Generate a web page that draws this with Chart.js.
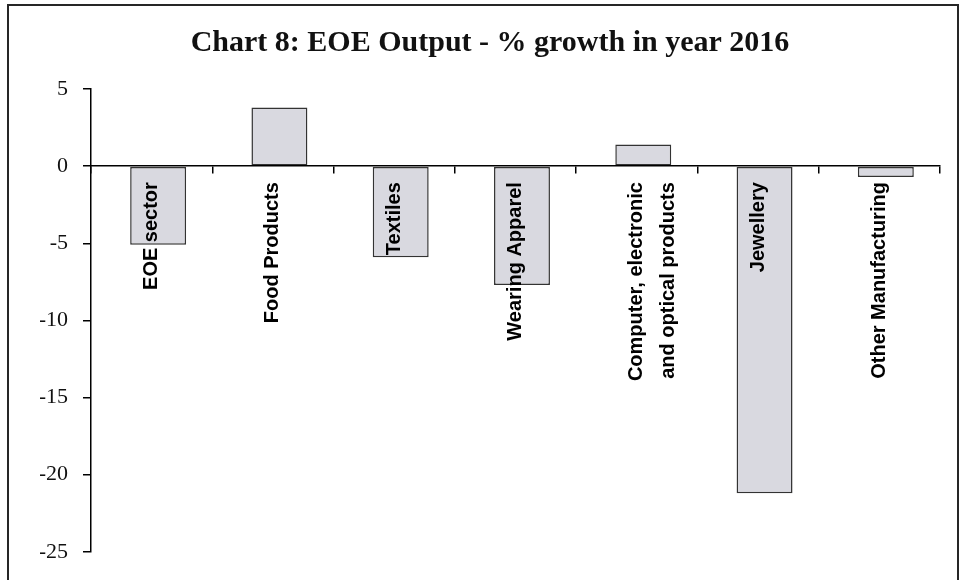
<!DOCTYPE html>
<html>
<head>
<meta charset="utf-8">
<script src="https://cdn.jsdelivr.net/npm/chart.js@4"></script>
<style>
  html, body { margin: 0; padding: 0; background: #fff; overflow: hidden; }
  #frame { position: absolute; left: 7px; top: 4px; width: 948px; height: 620px; border: 2px solid #262626; border-bottom: none; }
  #wrap { position: absolute; left: 0; top: 0; width: 960px; height: 580px; }
</style>
</head>
<body>
<div id="frame"></div>
<div id="wrap"><canvas id="eoeChart"></canvas></div>
<script>
// Sectors (multi-line label kept as an array)
const categories = [
  'EOE sector',
  'Food Products',
  'Textiles',
  'Wearing Apparel',
  ['Computer, electronic', 'and optical products'],
  'Jewellery',
  'Other Manufacturing'
];
// % growth in 2016
const growth2016 = [-5.1, 3.8, -5.9, -7.7, 1.4, -21.2, -0.7];
const yTicks = [5, 0, -5, -10, -15, -20, -25];

const ctx = document.getElementById('eoeChart').getContext('2d');

const eoeChart = new Chart(ctx, {
  type: 'bar',
  data: {
    labels: categories,
    datasets: [
      {
        // empty slot, only there so the bars sit a little right of centre like the original
        label: '',
        data: categories.map(() => null)
      },
      {
        label: 'EOE Output',
        data: growth2016,
        backgroundColor: '#d9d9e0',
        borderColor: '#333333',
        borderWidth: 1.5,
        borderSkipped: false,
        categoryPercentage: 0.214,
        barPercentage: 4.31
      }
    ]
  },
  options: {
    responsive: true,
    maintainAspectRatio: false,
    animation: false,
    layout: {
      padding: { top: 0, left: 40, right: 20, bottom: 28 }
    },
    plugins: {
      legend: { display: false },
      tooltip: { enabled: false },
      title: {
        display: true,
        text: 'Chart 8: EOE Output - % growth in year 2016',
        color: '#111',
        font: { family: '"Liberation Serif", "Times New Roman", serif', weight: 'bold', size: 30, lineHeight: 1.2 },
        padding: { top: 25, bottom: 28 }
      }
    },
    scales: {
      x: {
        type: 'category',
        position: { y: 0 },
        offset: true,
        grid: {
          offset: true,
          drawOnChartArea: false,
          drawTicks: true,
          tickLength: 7,
          color: '#000',
          lineWidth: 1.5
        },
        border: { color: '#000', width: 1.5, z: 1 },
        ticks: {
          z: 1, // labels go on top of the bars
          autoSkip: false,
          minRotation: 90,
          maxRotation: 90,
          padding: 9,
          color: '#000',
          font: { family: '"Liberation Sans", Arial, sans-serif', weight: 'bold', size: 20, lineHeight: 1.6 }
        }
      },
      y: {
        min: -25,
        max: 5,
        afterBuildTicks: (axis) => {
          axis.ticks = yTicks.map(v => ({ value: v }));
        },
        afterFit: (scale) => {
          scale.width = 51;
        },
        grid: {
          drawOnChartArea: false,
          drawTicks: true,
          tickLength: 8,
          color: '#000',
          lineWidth: 1.5
        },
        border: { color: '#000', width: 1.5 },
        ticks: {
          padding: 15,
          color: '#111',
          font: { family: '"Liberation Serif", "Times New Roman", serif', size: 22 }
        }
      }
    }
  }
});
</script>
</body>
</html>
